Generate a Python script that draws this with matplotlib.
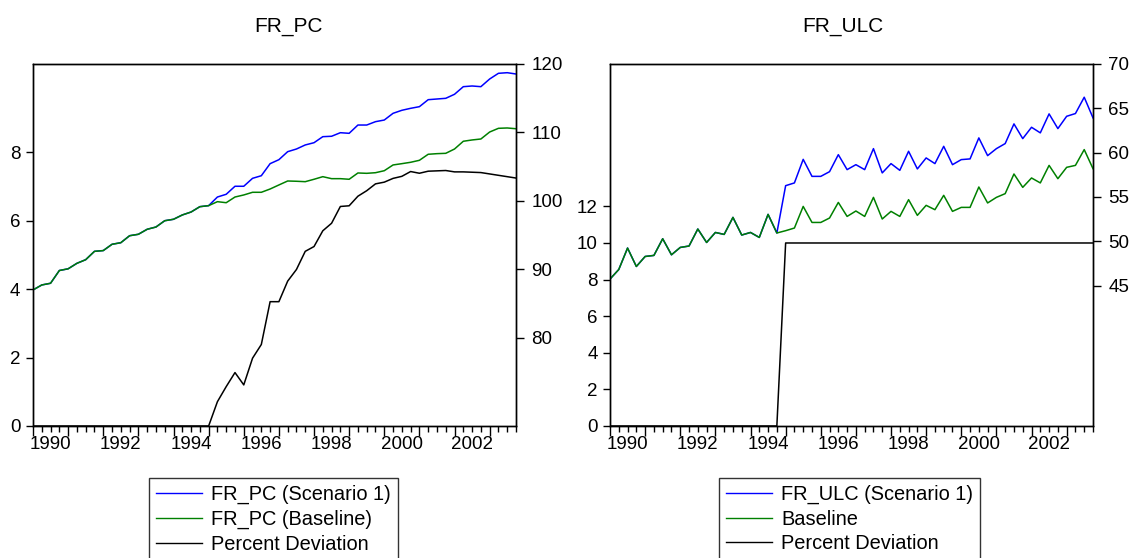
import pandas as pd
import matplotlib
matplotlib.use("Agg")
import matplotlib.pyplot as plt
from matplotlib.lines import Line2D

plt.rcParams["font.family"] = ["Liberation Sans", "DejaVu Sans"]

# quarterly sample 1990Q1 - 2003Q4
quarters = pd.period_range("1990Q1", "2003Q4", freq="Q")
x = quarters.year + (quarters.quarter - 1) / 4.0

year_ticks = list(range(1990, 2004))
label_years = [1990, 1992, 1994, 1996, 1998, 2000, 2002]

# FR_PC
pc_scenario = [
    87.01, 87.74, 87.99, 89.85, 90.10, 90.90, 91.43, 92.65, 92.76, 93.68,
    93.91, 94.93, 95.14, 95.87, 96.20, 97.12, 97.33, 97.96, 98.39, 99.17,
    99.32, 100.58, 100.98, 102.15, 102.15, 103.31, 103.69, 105.45, 106.03, 107.20,
    107.59, 108.18, 108.51, 109.39, 109.45, 109.97, 109.88, 111.09, 111.09, 111.58,
    111.82, 112.80, 113.24, 113.53, 113.77, 114.79, 114.89, 114.99, 115.58, 116.69,
    116.79, 116.69, 117.81, 118.64, 118.73, 118.54,
]
pc_baseline = [
    87.01, 87.74, 87.99, 89.85, 90.10, 90.90, 91.43, 92.65, 92.76, 93.68,
    93.91, 94.93, 95.14, 95.87, 96.20, 97.12, 97.33, 97.96, 98.39, 99.17,
    99.32, 99.90, 99.75, 100.58, 100.88, 101.27, 101.27, 101.75, 102.34, 102.92,
    102.88, 102.82, 103.17, 103.55, 103.26, 103.26, 103.17, 104.09, 104.04, 104.13,
    104.42, 105.26, 105.45, 105.65, 105.94, 106.82, 106.91, 106.96, 107.59, 108.72,
    108.91, 109.05, 110.07, 110.61, 110.66, 110.55,
]
pc_deviation = [
    0, 0, 0, 0, 0, 0, 0, 0, 0, 0,
    0, 0, 0, 0, 0, 0, 0, 0, 0, 0,
    0, 0.71, 1.15, 1.56, 1.20, 1.98, 2.38, 3.63, 3.63, 4.23,
    4.57, 5.10, 5.24, 5.70, 5.92, 6.41, 6.43, 6.71, 6.87, 7.07,
    7.12, 7.23, 7.29, 7.43, 7.38, 7.44, 7.45, 7.46, 7.42, 7.42,
    7.41, 7.40, 7.36, 7.32, 7.28, 7.24,
]

# FR_ULC
ulc_scenario = [
    45.73, 46.81, 49.23, 47.15, 48.28, 48.40, 50.28, 48.47, 49.30, 49.46,
    51.38, 49.86, 50.99, 50.77, 52.69, 50.70, 50.99, 50.43, 53.03, 50.93,
    56.27, 56.58, 59.24, 57.32, 57.32, 57.85, 59.77, 58.08, 58.64, 58.08,
    60.45, 57.71, 58.76, 58.00, 60.15, 58.16, 59.40, 58.76, 60.71, 58.64,
    59.21, 59.29, 61.66, 59.66, 60.45, 61.02, 63.24, 61.58, 62.86, 62.23,
    64.37, 62.71, 64.10, 64.41, 66.25, 63.92,
]
ulc_baseline = [
    45.73, 46.81, 49.23, 47.15, 48.28, 48.40, 50.28, 48.47, 49.30, 49.46,
    51.38, 49.86, 50.99, 50.77, 52.69, 50.70, 50.99, 50.43, 53.03, 50.93,
    51.19, 51.49, 53.93, 52.12, 52.12, 52.62, 54.38, 52.80, 53.41, 52.80,
    54.95, 52.51, 53.37, 52.80, 54.69, 52.92, 54.05, 53.56, 55.18, 53.37,
    53.82, 53.82, 56.12, 54.32, 54.95, 55.37, 57.59, 56.08, 57.14, 56.58,
    58.56, 57.06, 58.34, 58.56, 60.34, 58.19,
]
ulc_deviation = [0] * 20 + [10] * 36

W, H = 1134, 558
BLUE = "#0000ff"
GREEN = "#008000"
TICK_SIZE = 13.5
LW = 1.1


def plot_panel(fig, left_px, title, title_x, scenario, baseline, deviation,
               labels, left_lim, left_ticks, right_lim, right_ticks, legend_px):

    ax = fig.add_axes([left_px / W, (H - 426) / H, 483 / W, 362 / H])
    ax2 = ax.twinx()

    ax.plot(x, deviation, color="black", lw=LW)
    ax2.plot(x, scenario, color=BLUE, lw=LW)
    ax2.plot(x, baseline, color=GREEN, lw=LW)

    ax.set_xlim(1990, 2003.75)
    ax.set_ylim(*left_lim)
    ax2.set_ylim(*right_lim)

    ax.set_yticks(left_ticks)
    ax2.set_yticks(right_ticks)

    ax.set_xticks(year_ticks)
    ax.set_xticklabels([])
    ax.set_xticks(list(x), minor=True)
    ax.tick_params(axis="x", which="major", length=7, width=1)
    ax.tick_params(axis="x", which="minor", length=4, width=1)
    ax.tick_params(axis="y", length=5, width=1, pad=4,
                   labelsize=TICK_SIZE)
    ax2.tick_params(axis="y", length=6, width=1, pad=5,
                    labelsize=TICK_SIZE)

    sec = ax.secondary_xaxis("bottom")
    sec.set_xticks([y + 0.5 for y in label_years],
                   labels=[str(y) for y in label_years])
    sec.tick_params(length=0, pad=7, labelsize=TICK_SIZE)
    sec.spines["bottom"].set_visible(False)

    for a in (ax, ax2):
        for s in a.spines.values():
            s.set_linewidth(1.0)
            s.set_color("black")

    fig.text(title_x / W, 1 - 27 / H, title, fontsize=15,
             ha="center", va="center")

    handles = [
        Line2D([], [], color=BLUE, lw=1.0),
        Line2D([], [], color=GREEN, lw=1.0),
        Line2D([], [], color="black", lw=1.0),
    ]
    leg = fig.legend(
        handles, labels,
        loc="upper left",
        bbox_to_anchor=(legend_px[0] / W, 1 - legend_px[1] / H),
        borderaxespad=0,
        fontsize=14.4,
        frameon=True,
        fancybox=False,
        borderpad=0.35,
        labelspacing=0.28,
        handlelength=2.3,
        handletextpad=0.45,
    )
    leg.get_frame().set_edgecolor("black")
    leg.get_frame().set_linewidth(1.0)


fig = plt.figure(figsize=(W / 100, H / 100), dpi=100)

plot_panel(
    fig, 33, "FR_PC", 288,
    pc_scenario, pc_baseline, pc_deviation,
    ["FR_PC (Scenario 1)", "FR_PC (Baseline)", "Percent Deviation"],
    (0, 10.57), [0, 2, 4, 6, 8],
    (67.15, 120), [80, 90, 100, 110, 120],
    (149, 478),
)

plot_panel(
    fig, 610, "FR_ULC", 843,
    ulc_scenario, ulc_baseline, ulc_deviation,
    ["FR_ULC (Scenario 1)", "Baseline", "Percent Deviation"],
    (0, 19.78), [0, 2, 4, 6, 8, 10, 12],
    (29.15, 70), [45, 50, 55, 60, 65, 70],
    (719, 478),
)

fig.savefig("out.png", dpi=100)
